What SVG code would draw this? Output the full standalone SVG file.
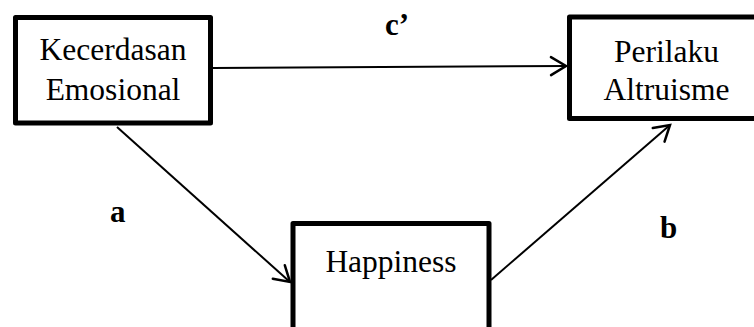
<svg xmlns="http://www.w3.org/2000/svg" width="754" height="327" viewBox="0 0 754 327">
<style>
.box{fill:#fff;stroke:#000;stroke-width:5;stroke-linejoin:round}
.t{font-family:"Liberation Serif","Times New Roman",serif;font-size:31.5px;fill:#000;text-anchor:middle}
.lbl{font-family:"Liberation Serif","Times New Roman",serif;font-size:31px;font-weight:bold;fill:#000}
.edge{stroke:#000;stroke-width:2;fill:none}
</style>
<defs>
<marker id="arr" markerUnits="userSpaceOnUse" viewBox="-18 -11 21 22" refX="0" refY="0" markerWidth="21" markerHeight="22" orient="auto">
<path d="M-15,-9 L0,0 L-15,9" fill="none" stroke="#000" stroke-width="2.5" stroke-linecap="round" stroke-linejoin="miter"/>
</marker>
</defs>
<rect width="754" height="327" fill="#fff"/>
<g id="connectors">
<line class="edge" x1="213" y1="68" x2="566" y2="66" marker-end="url(#arr)"/>
<line class="edge" x1="117" y1="127" x2="290" y2="282" marker-end="url(#arr)"/>
<line class="edge" x1="491" y1="280" x2="670" y2="125" marker-end="url(#arr)"/>
</g>
<g id="node-kecerdasan">
<rect class="box" x="15.5" y="17.5" width="195" height="105.5"/>
<text class="t" x="113" y="60">Kecerdasan</text>
<text class="t" x="113" y="100">Emosional</text>
</g>
<g id="node-perilaku">
<rect class="box" x="569.5" y="17" width="195" height="101.5"/>
<text class="t" x="666.5" y="62">Perilaku</text>
<text class="t" x="666.5" y="100">Altruisme</text>
</g>
<g id="node-happiness">
<rect class="box" x="293" y="223.5" width="196" height="120"/>
<text class="t" x="391" y="272">Happiness</text>
</g>
<g id="labels">
<text class="lbl" x="385" y="35">c’</text>
<text class="lbl" x="110" y="222">a</text>
<text class="lbl" x="660" y="238">b</text>
</g>
</svg>
